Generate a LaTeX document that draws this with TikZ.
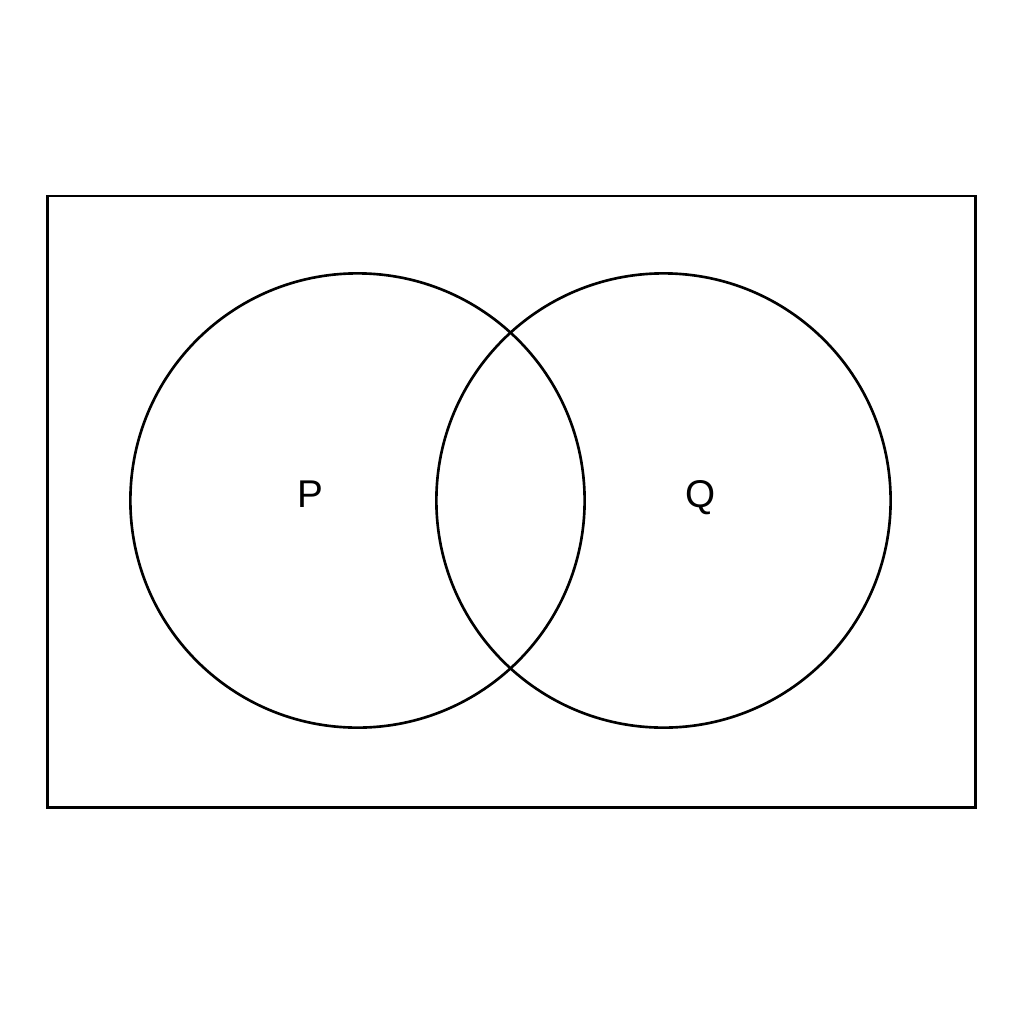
\documentclass[tikz,border=0pt]{standalone}
\usepackage{fontspec}
\setmainfont{Liberation Sans}
\usetikzlibrary{positioning}

\begin{document}
\begin{tikzpicture}[x=0.01cm, y=-0.01cm]
        \def\rad{4.54}
        \def\lw{0.75}
        \tikzset{setcircle/.style={circle, draw, line width = \lw pt, minimum size = \rad cm, inner sep=0pt},
                 setlabel/.style={anchor=base, inner sep=0pt, font=\fontsize{11}{13}\selectfont}}
        \useasboundingbox (0,0) rectangle (1024,1024);
        % universe
        \node(univ) [rectangle, draw, line width = \lw pt, minimum width = 9.27 cm, minimum height = 6.11 cm, inner sep=0pt] at (511.5,501.5) {};

        \node(circP) [setcircle] at (357.5,500.5) {};
        \node(circQ) [setcircle] at (663.5,500.5) {};

        \node(labP) [setlabel] at (310,507) {P};
        \node(labQ) [setlabel] at (701,507) {Q};
    \end{tikzpicture}
\end{document}
